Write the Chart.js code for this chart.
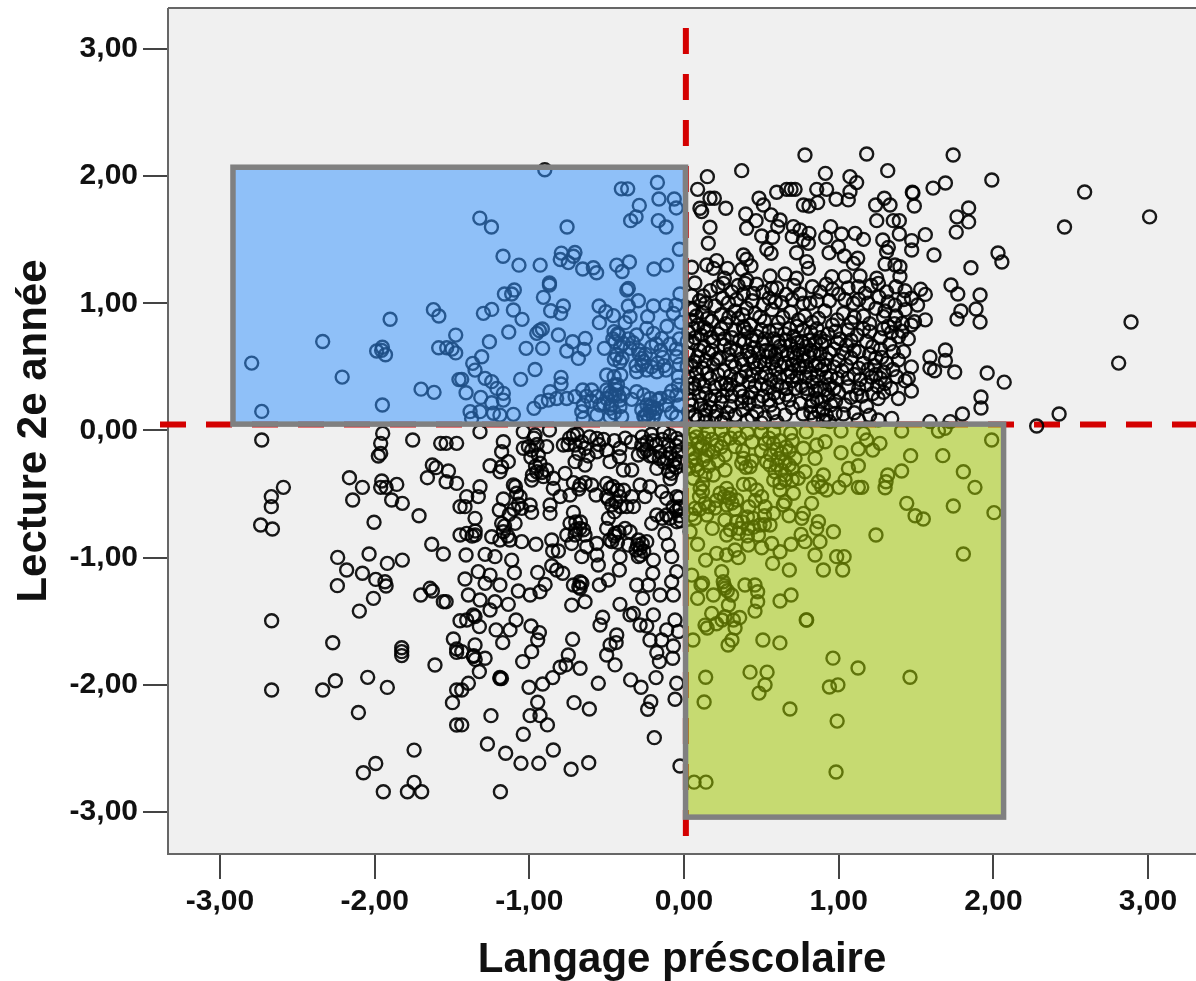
<!DOCTYPE html>
<html><head><meta charset="utf-8">
<style>html,body{margin:0;padding:0;background:#fff}canvas{display:block}</style>
<script src="https://cdn.jsdelivr.net/npm/chart.js@4"></script>
</head><body><canvas id="c" width="1196" height="981"></canvas>
<script>
const tickValues=[-3,-2,-1,0,1,2,3];
const xTitle="Langage préscolaire";
const yTitle="Lecture 2e année";
const blueBox={x0:-2.916,x1:0.01,y0:0.05,y1:2.07};
const greenBox={x0:0.01,x1:2.066,y0:-3.04,y1:0.05};
const redV=0.012, redH=0.047;

const upperLeft=[[-2.795,.53],[-2.73,.15],[-2.336,.70],[-2.21,.42],[-1.90,.875],[-1.95,.20],[-1.987,.625],[-1.95,.655],[-1.955,.63],[-1.93,.595],[-1.70,.325],[-1.616,.30],[-1.62,.95],[-1.585,.90],[-1.476,.75],[-1.586,.65],[-1.534,.65],[-1.50,.64],[-1.476,.61],[-1.455,.40],
[-.90,2.05],[-.172,1.95],[-.405,1.90],[-.364,1.90],[-.162,1.82],[-.063,1.82],[-.05,1.75],[-.289,1.77],[-.31,1.68],[-.345,1.65],[-.166,1.65],[-.116,1.60],[-1.32,1.67],[-1.245,1.60],[-.756,1.60],[-.03,1.425],[-1.17,1.37],[-1.067,1.30],[-.93,1.30],[-.793,1.395],[-.705,1.40],[-.80,1.345],[-.715,1.37],[-.748,1.32],[-.655,1.27],[-.586,1.28],[-.565,1.24],[-.435,1.30],[-.353,1.325],[-.40,1.25],[-.194,1.27],[-.112,1.30],[-.87,1.16],
[-.87,1.144],[-1.097,1.105],[-1.161,1.073],[-1.114,1.073],[-.909,1.047],[-1.243,.952],[-1.297,.921],[-1.103,.947],[-1.047,.874],[-.862,.942],[-.78,.979],[-.797,.921],[-.549,.979],[-.506,.934],[-.457,.903],[-.547,.848],[-.36,1.117],[-.37,1.104],[-.36,.979],[-.295,1.02],[-.198,.979],[-.116,.986],[-.069,.921],[-.052,.986],[-.026,1.073],[-.349,.895],[-.235,.895],[-.381,.848],[-1.133,.774],[-1.258,.698],[-.916,.798],[-.935,.785],[-.952,.764],[-.812,.751],[-.72,.698],[-.638,.724],[-1.021,.646],[-.914,.646],[-.758,.625],[-.646,.638],[-.683,.567],[-.515,.646],[-.452,.777],[-.424,.751],[-.446,.698],[-.392,.685],[-.306,.751],[-.241,.803],[-.198,.764],[-.144,.724],[-.209,.659],[-.295,.633],[-.349,.646],[-.435,.593],[-.414,.541],[-.273,.567],[-.138,.575],[-.047,.58],[-.306,.462],[-.241,.475],[-.176,.462],[-.116,.475],[-.036,.423],[-.273,.515],[-1.308,.58],[-1.366,.528],[-1.351,.475],[-.963,.48],[-1.056,.402],[-.795,.418],[-.795,.365],[-.50,.436],[-.452,.423],[-.409,.436],[-1.437,.402],[-1.286,.41],[-1.243,.384],[-1.409,.297],[-1.21,.331],[-1.168,.292],[-1.168,.239],[-1.314,.26],[-1.243,.218],[-1.383,.148],[-1.319,.148],[-1.232,.135],[-1.103,.127],[-1.19,.121],[-1.373,.095],[-.97,.174],[-.924,.226],[-.866,.305],[-.877,.239],[-.823,.252],[-.758,.252],[-.704,.266],[-.655,.318],[-.597,.318],[-.564,.266],[-.50,.318],[-.446,.357],[-.392,.292],[-.446,.279],[-.50,.252],[-.306,.305],[-.338,.245],[-.22,.252],[-.22,.187],[-.273,.161],[-.176,.174],[-.155,.252],[-.101,.266],[-.047,.279],[-.036,.357],[-.651,.20],[-.661,.148],[-.543,.20],[-.564,.121],[-.478,.174],[-.414,.187],[-.403,.108],[-.651,.095],[-.252,.108],[-.198,.108],[-.047,.108],[-.478,.108],[-.435,.318],[-.467,.279],[-.414,.239],[-.22,.15],[-.24,.13],[-.2,.18]];

const upperLeftDense=[[-.43,.76],[-.46,.72],[-.41,.66],[-.4,.57],[-.45,.56],[-.29,.6],[-.26,.54],[-.25,.6],[-.31,.51],[-.21,.5],[-.17,.53],[-.13,.51],[-.48,.3],[-.43,.36],[-.47,.2],[-.42,.27],[-.45,.14],[-.52,.21],[-.6,.23],[-.63,.27],[-.24,.2],[-.19,.14],[-.26,.11],[-.23,.09],[-.17,.24],[-.26,.28],[-.08,.31],[-.12,.2],[-.08,.14],[-.03,.2],[-.03,.72],[-.05,.64],[-.09,.68],[-.03,.52],[-.36,.72],[-.33,.69],[-.18,.68],[-.15,.63],[-.11,.82],[-.02,.85]];

const upperRight=[[.782,2.166],[1.181,2.174],[.373,2.043],[1.317,2.043],[.914,2.022],[.151,1.996],[.088,1.896],[1.073,1.996],[1.116,1.949],[.599,1.873],[.664,1.896],[.692,1.896],[.718,1.896],[.858,1.896],[.922,1.896],[.983,1.818],[1.073,1.878],[1.062,1.813],[.864,1.792],[.772,1.773],[.808,1.765],[1.476,1.873],[1.489,1.765],[1.295,1.826],[1.332,1.773],[1.239,1.773],[1.246,1.65],[1.353,1.65],[1.392,1.65],[1.392,1.545],[.485,1.826],[.513,1.773],[.168,1.826],[.196,1.826],[.27,1.747],[.103,1.747],[.114,1.721],[.399,1.702],[.466,1.65],[.405,1.59],[.563,1.695],[.621,1.655],[.606,1.603],[.168,1.598],[.157,1.472],[.502,1.529],[.573,1.519],[.535,1.425],[.563,1.393],[.707,1.603],[.75,1.577],[.70,1.524],[.808,1.55],[.804,1.472],[.772,1.498],[.728,1.398],[.948,1.603],[.916,1.519],[1.019,1.545],[1.106,1.55],[1.16,1.503],[.938,1.398],[.998,1.445],[1.037,1.372],[1.123,1.354],[1.095,1.314],[.793,1.328],[.804,1.275],[1.285,1.498],[1.321,1.44],[1.31,1.406],[1.30,1.309],[1.396,1.288],[1.364,1.301],[1.472,1.493],[1.472,1.419],[.05,1.283],[.147,1.301],[.211,1.336],[.19,1.275],[.282,1.275],[.384,1.38],[.405,1.346],[.433,1.294],[.373,1.267],[.405,1.183],[.261,1.197],[.556,1.215],[.653,1.231],[.728,1.197],[.955,1.21],[1.041,1.21],[1.138,1.215],[1.246,1.197],[1.396,1.21],
[1.74,2.166],[1.69,1.946],[1.61,1.906],[1.48,1.867],[1.99,1.97],[2.59,1.875],[2.46,1.60],[3.01,1.68],[1.84,1.75],[1.765,1.68],[1.84,1.64],[1.76,1.56],[1.56,1.54],[2.03,1.396],[2.055,1.325],[1.855,1.28],[1.616,1.38],[1.726,1.144],[1.77,1.073],[1.914,1.065],[1.888,.955],[1.79,.94],[1.765,.877],[1.914,.853],[2.89,.853],[2.81,.53],[1.96,.452],[2.07,.38],[1.75,.46],[1.92,.263],[1.92,.177],[1.80,.13],[2.425,.13],[2.28,.035],[1.59,.07],[1.72,.07],[1.51,.987],[1.56,1.07],[1.53,1.11],[1.43,.95],[1.56,.87],[1.47,.83],[1.69,.633],[1.59,.578],[1.69,.55],[1.59,.49],[1.47,.5],[1.43,.39],[1.47,.31],[1.62,.47],
[.255,1.157],[.394,1.157],[.567,1.117],[.75,1.073],[.879,1.09],[1.0,1.073],[1.127,1.13],[1.257,1.157],[1.429,1.099],[.384,1.073],[.449,1.078],[.125,1.057],[1.19,1.0],[1.095,1.0],[1.364,.986],[.632,1.005],[.513,.99],[.287,1.005],[.2,.979],[.405,.96],[.815,1.0],[1.2,.777],[1.412,.842],[1.49,.855],[1.29,.895],[1.386,.737],[.384,.816],[1.278,.575],[1.353,.62],[1.386,.554],[1.375,.423],[1.45,.41],[1.256,.252],[1.386,.252],[1.041,.2],[1.116,.279],[1.063,.344],[.977,.134],[.75,.213],[.632,.344],[.136,.121],[.373,.226],[.47,.148],[.653,.121],[1.343,.095],[1.256,.082],[1.127,.082],
[.05,.96],[.12,.93],[.24,.91],[.33,.94],[.46,.92],[.57,.95],[.69,.93],[.78,.9],[.91,.94],[1.03,.92],[1.16,.9],[1.24,.96],
[.04,.87],[.09,.83],[.18,.86],[.27,.84],[.35,.88],[.43,.83],[.52,.86],[.61,.85],[.73,.82],[.83,.85],[.96,.83],[1.08,.85],[1.2,.84],[1.32,.82],
[.03,.77],[.11,.75],[.15,.79],[.22,.76],[.31,.73],[.41,.77],[.47,.74],[.55,.78],[.58,.72],[.65,.76],[.71,.74],[.76,.7],[.82,.77],[.88,.73],[.93,.76],[1.01,.72],[1.12,.75],[1.27,.73],[1.34,.77],
[.06,.69],[.13,.66],[.19,.7],[.26,.67],[.34,.63],[.39,.69],[.45,.65],[.51,.68],[.56,.62],[.62,.66],[.67,.6],[.69,.67],[.74,.63],[.79,.66],[.84,.61],[.89,.68],[.97,.64],[1.05,.67],[1.13,.62],[1.22,.66],
[.03,.6],[.09,.58],[.16,.61],[.23,.57],[.29,.6],[.37,.56],[.43,.58],[.49,.54],[.54,.58],[.6,.55],[.65,.53],[.72,.57],[.77,.55],[.81,.58],[.87,.53],[.92,.56],[1.0,.55],[1.08,.57],[1.16,.53],
[.05,.51],[.12,.49],[.19,.52],[.26,.47],[.33,.5],[.4,.46],[.47,.49],[.53,.45],[.59,.48],[.69,.46],[.75,.49],[.82,.45],[.89,.48],[.95,.43],[1.02,.47],[1.1,.44],[1.19,.48],[1.27,.41],
[.03,.42],[.1,.39],[.17,.41],[.24,.37],[.42,.38],[.5,.36],[.56,.4],[.7,.39],[.76,.35],[.83,.38],[.88,.33],[.94,.36],[1.0,.3],[1.18,.36],[1.3,.37],
[.07,.33],[.14,.29],[.2,.27],[.28,.32],[.44,.3],[.51,.27],[.58,.29],[.8,.29],[.86,.25],[.93,.28],[.98,.23],
[.04,.24],[.11,.2],[.17,.18],[.24,.22],[.3,.19],[.42,.21],[.56,.2],[.68,.24],[.82,.19],[.9,.17],
[.03,.15],[.09,.09],[.2,.11],[.26,.09],[.33,.12],[.41,.08],[.52,.1],[.6,.07],[.84,.1],[.94,.07]];

const upperRightDense=[[.08,.9],[.15,.88],[.29,.89],[.38,.91],[.49,.89],[.64,.89],[.74,.87],[.87,.88],[.99,.87],[1.1,.89],[.06,.8],[.13,.81],[.24,.8],[.33,.79],[.39,.8],[.5,.79],[.6,.79],[.68,.8],[.77,.79],[.86,.8],[.98,.78],[1.06,.79],[1.16,.8],[.07,.73],[.17,.73],[.26,.72],[.36,.71],[.44,.71],[.52,.72],[.61,.7],[.66,.71],[.73,.69],[.81,.71],[.85,.69],[.91,.7],[.99,.69],[1.08,.71],[1.18,.7],[.1,.63],[.18,.63],[.3,.65],[.41,.62],[.48,.61],[.53,.63],[.59,.6],[.63,.62],[.71,.61],[.77,.6],[.82,.63],[.88,.6],[.94,.61],[1.03,.61],[1.1,.63],[1.2,.6],[.07,.54],[.14,.55],[.21,.56],[.31,.54],[.38,.52],[.45,.54],[.52,.52],[.57,.53],[.63,.5],[.7,.52],[.74,.51],[.79,.5],[.85,.51],[.91,.51],[.97,.5],[1.05,.51],[1.13,.49],[1.23,.51],[.08,.45],[.15,.45],[.22,.44],[.3,.43],[.37,.42],[.44,.43],[.5,.42],[.62,.42],[.67,.43],[.73,.42],[.79,.42],[.86,.43],[.92,.42],[.99,.41],[1.06,.41],[1.14,.4],[1.24,.44],[.06,.37],[.13,.35],[.2,.34],[.27,.37],[.46,.35],[.54,.34],[.72,.33],[.79,.33],[.85,.31],[.91,.32],[.97,.33],[1.13,.33],[.1,.27],[.17,.24],[.25,.27],[.31,.27],[.42,.26],[.48,.23],[.55,.24],[.83,.23],[.89,.23],[.95,.2],[.05,.2],[.14,.16],[.21,.15],[.28,.14],[.38,.16],[.44,.11],[.58,.14],[.87,.15],[.92,.12],[.82,.14],[.14,.07],[.24,.07],[.07,.12],[.5,.06],[.9,.08],
[.07,1.16],[.17,1.1],[.22,1.13],[.31,1.09],[.35,1.14],[.47,1.15],[.51,1.09],[.6,1.12],[.66,1.07],[.71,1.14],[.83,1.13],[.92,1.15],[.96,1.11],[1.06,1.12],[1.17,1.08],[1.21,1.14],[1.31,1.09],[1.37,1.13],[1.47,1.04],[.05,1.06],[.1,1.02],[.25,1.04],[.34,1.03],[.44,1.02],[.55,1.04],[.59,1.01],[.7,1.03],[.77,1.0],[.86,1.02],[.94,1.02],[1.04,1.03],[1.13,1.03],[1.26,1.05],[1.32,1.01],[1.42,1.03],[1.3,.94],[1.37,.9],[1.41,.78],[1.29,.8],[1.36,.84],[1.45,.72],[1.33,.68],[1.27,.64],[1.42,.62],[1.24,.57],[1.31,.53],[1.29,.46],[1.35,.48],[1.21,.42],[1.25,.35],[1.34,.33],[1.15,.27],[1.22,.29],[1.29,.3],[1.08,.26],[1.18,.19],[1.1,.14],[1.03,.13],[1.2,.12],[.35,.4],[.3,.36],[.36,.31],[.38,.27],[.6,.36],[.66,.33],[.61,.26],[.66,.28],[.7,.18],[.77,.13],[.06,.95],[.14,1.0],[.02,.7],[.02,.5],[.02,.33]];

const lowerLeft=[[-2.73,-.075],[-1.948,-.023],[-1.961,-.101],[-1.961,-.18],[-1.976,-.201],[-1.754,-.075],[-1.573,-.101],[-1.538,-.101],[-1.47,-.101],[-1.627,-.271],[-1.603,-.292],[-1.523,-.319],[-1.659,-.371],[-1.538,-.403],[-1.47,-.416],[-2.163,-.371],[-2.079,-.447],[-2.142,-.547],[-2.59,-.447],[-2.668,-.52],[-2.668,-.599],[-2.737,-.743],[-2.661,-.775],[-1.954,-.397],[-1.961,-.447],[-1.926,-.447],[-1.857,-.424],[-1.89,-.547],[-1.821,-.573],[-1.713,-.67],[-2.004,-.722],[-1.631,-.895],[-1.556,-.971],[-1.448,-.822],[-1.448,-.599],[-2.239,-.998],[-2.036,-.971],[-2.181,-1.097],[-2.079,-1.123],[-1.918,-1.045],[-1.821,-1.019],[-1.993,-1.171],[-1.933,-1.189],[-1.926,-1.223],[-2.241,-1.22],[-2.008,-1.32],[-2.099,-1.42],[-1.702,-1.294],[-1.642,-1.241],[-1.627,-1.262],[-1.556,-1.346],[-1.538,-1.346],[-2.666,-1.496],[-1.448,-1.496],[-2.271,-1.669],[-1.491,-1.64],[-1.47,-1.718],[-1.47,-1.745],[-1.825,-1.708],[-1.825,-1.739],[-1.825,-1.77],[-1.61,-1.844],[-2.666,-2.041],[-2.336,-2.041],[-2.254,-1.968],[-2.045,-1.941],[-1.918,-2.02],[-2.105,-2.217],[-1.47,-2.041],[-1.497,-2.14],[-1.47,-2.316],[-1.745,-2.513],[-1.993,-2.618],[-2.073,-2.691],[-1.745,-2.767],[-1.944,-2.84],[-1.788,-2.84],[-1.696,-2.84],
[-1.319,-.01],[-1.168,-.088],[-1.179,-.167],[-1.136,-.245],[-1.254,-.277],[-1.179,-.285],[-1.19,-.324],[-1.039,-.14],[-.888,-.127],[-.87,.004],[-1.039,-.01],[-.963,-.036],[-.985,-.154],[-1.006,-.127],[-.942,-.193],[-.931,-.258],[-.952,-.324],[-.985,-.39],[-.909,-.363],[-.888,-.311],[-.845,-.376],[-.845,-.455],[-.769,-.337],[-.715,-.036],[-.78,-.114],[-.704,-.114],[-.64,-.14],[-.704,-.245],[-.64,-.272],[-.564,-.062],[-.564,-.167],[-.50,-.154],[-.414,-.14],[-.418,-.206],[-.478,-.245],[-.392,-.311],[-.338,-.311],[-.273,-.114],[-.295,-.193],[-.241,-.154],[-.176,-.298],[-.133,-.01],[-.155,-.167],[-.101,-.114],[-.047,-.062],[-.112,-.219],[-.069,-.272],[-.08,-.337],[-.036,-.167],[-.18,-.11],[-.2,-.2],
[-.672,-.429],[-.715,-.41],[-.597,-.429],[-.569,-.507],[-.737,-.507],[-.801,-.52],[-.866,-.586],[-.866,-.652],[-.995,-.586],[-.985,-.644],[-1.049,-.612],[-1.103,-.429],[-1.082,-.494],[-1.168,-.539],[-1.194,-.625],[-1.092,-.73],[-1.179,-.73],[-1.168,-.796],[-1.319,-.442],[-1.33,-.52],[-1.405,-.52],[-1.416,-.599],[-1.351,-.691],[-1.405,-.809],[-1.351,-.822],[-1.243,-.835],[-1.19,-.861],[-1.125,-.861],[-1.049,-.874],[-.957,-.895],[-.855,-.861],[-.849,-.948],[-.812,-.948],[-.758,-.822],[-.726,-.888],[-.715,-.644],[-.737,-.73],[-.672,-.77],[-.704,-.822],[-.64,-.822],[-.564,-.888],[-.629,-.914],[-.661,-.992],[-.564,-.979],[-.554,-1.058],[-.414,-.992],[-.418,-1.097],
[-.50,-.416],[-.478,-.455],[-.414,-.52],[-.50,-.52],[-.467,-.586],[-.338,-.52],[-.37,-.599],[-.327,-.599],[-.284,-.429],[-.22,-.442],[-.252,-.52],[-.144,-.481],[-.112,-.534],[-.047,-.52],[-.026,-.612],[-.176,-.665],[-.112,-.665],[-.209,-.73],[-.123,-.809],[-.047,-.717],[-.03,-.67],[-.489,-.691],[-.50,-.77],[-.446,-.809],[-.381,-.77],[-.349,-.796],[-.467,-.874],[-.36,-.901],[-.295,-.861],[-.241,-.874],[-.284,-.927],[-.295,-.992],[-.101,-.901],[-.08,-.992],[-.198,-1.019],[-.202,-1.123],[-.047,-1.11],[-.08,-1.189],[-.069,-1.294],[-.306,-1.215],[-.23,-1.215],[-.155,-1.294],[-.267,-1.32],
[-1.409,-.979],[-1.286,-.974],[-1.222,-.992],[-1.114,-1.019],[-1.097,-1.118],[-1.33,-1.11],[-1.254,-1.137],[-1.416,-1.168],[-1.286,-1.202],[-1.19,-1.215],[-1.394,-1.294],[-1.319,-1.333],[-1.222,-1.346],[-1.136,-1.367],[-1.071,-1.262],[-.995,-1.294],[-.931,-1.268],[-.898,-1.21],[-.946,-1.116],[-.855,-1.063],[-.823,-1.097],[-.784,-1.123],[-.715,-1.215],[-.672,-1.189],[-.672,-1.241],[-.547,-1.215],[-.489,-1.176],[-.726,-1.373],[-.64,-1.346],[-.414,-1.367],[-.327,-1.438],[-1.254,-1.412],[-1.362,-1.451],
[-1.405,-1.49],[-1.351,-1.463],[-1.323,-1.542],[-1.215,-1.568],[-1.125,-1.568],[-1.086,-1.49],[-1.172,-1.668],[-.989,-1.537],[-.935,-1.589],[-.946,-1.647],[-.985,-1.739],[-1.043,-1.817],[-1.351,-1.686],[-1.362,-1.778],[-1.286,-1.791],[-1.323,-1.896],[-1.19,-1.941],[-1.18,-1.95],[-1.394,-1.988],[-1.437,-1.739],[-.72,-1.642],[-.748,-1.765],[-.763,-1.843],[-.801,-1.862],[-.849,-1.943],[-.914,-1.993],[-1.002,-2.019],[-.672,-1.87],[-.554,-1.988],[-.946,-2.137],[-.995,-2.242],[-.931,-2.242],[-.883,-2.315],[-.711,-2.14],[-.612,-2.19],[-1.248,-2.242],[-1.039,-2.389],[-1.271,-2.465],[-1.153,-2.538],[-1.054,-2.617],[-.939,-2.617],[-.845,-2.512],[-.73,-2.664],[-.616,-2.612],[-1.187,-2.84],[-1.437,-2.315],[-1.437,-2.04],
[-.526,-1.469],[-.543,-1.529],[-.435,-1.608],[-.439,-1.668],[-.478,-1.686],[-.50,-1.765],[-.446,-1.843],[-.349,-1.45],[-.198,-1.45],[-.284,-1.529],[-.241,-1.537],[-.112,-1.568],[-.058,-1.49],[-.036,-1.581],[-.22,-1.647],[-.144,-1.647],[-.069,-1.694],[-.176,-1.746],[-.159,-1.817],[-.073,-1.791],[-.181,-1.943],[-.345,-1.961],[-.278,-2.019],[-.047,-1.988],[-.058,-2.113],[-.215,-2.132],[-.235,-2.192],[-.192,-2.415],[-.026,-2.638]];

const lowerLeftDense=[[-.97,-.06],[-.95,-.11],[-.99,-.21],[-.96,-.28],[-.92,-.33],[-.98,-.35],[-.74,-.06],[-.69,-.03],[-.75,-.11],[-.66,-.09],[-.61,-.05],[-.68,-.18],[-.62,-.2],[-.55,-.11],[-.52,-.07],[-.45,-.08],[-.38,-.06],[-.34,-.09],[-.27,-.05],[-.21,-.03],[-.24,-.09],[-.2,-.08],[-.14,-.07],[-.09,-.04],[-.05,-.12],[-.03,-.09],[-.26,-.17],[-.22,-.2],[-.16,-.22],[-.13,-.25],[-.09,-.18],[-.06,-.23],[-.05,-.29],[-.03,-.25],[-.1,-.32],[-.09,-.38],[-.46,-.44],[-.43,-.47],[-.49,-.54],[-.44,-.56],[-.41,-.6],[-.45,-.64],[-.39,-.47],[-.68,-.46],[-.64,-.41],[-.7,-.72],[-.67,-.72],[-.65,-.78],[-.7,-.78],[-.3,-.9],[-.27,-.89],[-.31,-.94],[-.26,-.95],[-.28,-.98],[-.45,-.83],[-.43,-.88],[-.42,-.8],[-.48,-.86],[-.03,-.53],[-.03,-.6],[-.05,-.63],[-.02,-.71],[-.07,-.6],[-.14,-.69],[-.09,-.69],[-1.1,-.62],[-1.07,-.58],[-1.13,-.66],[-1.14,-.83],[-1.16,-.75],[-1.35,-.79],[-1.37,-.83],[-1.06,-.52],[-1.09,-.44],[-.66,-1.2],[-.68,-1.23],[-1.36,-1.77],[-1.35,-1.8],[-1.19,-1.95]];

const lowerRight=[[1.015,-.004],[1.407,-.004],[1.645,-.004],[1.688,.017],[1.989,-.075],[1.16,-.023],[1.181,-.075],[1.267,-.101],[1.22,-.154],[1.127,-.146],[1.015,-.175],[1.465,-.198],[1.673,-.198],[1.127,-.277],[1.063,-.298],[1.407,-.319],[1.806,-.324],[1.317,-.35],[1.306,-.403],[1.30,-.45],[1.881,-.447],[1.127,-.447],[1.149,-.447],[1.041,-.39],[1.002,-.447],[.922,-.468],[.901,-.35],[.869,-.403],[.89,-.442],[.836,-.447],[1.44,-.573],[1.741,-.594],[2.004,-.646],[1.494,-.67],[1.547,-.696],[1.241,-.822],[1.806,-.971],[.966,-.796],[.825,-.573],[.869,-.717],[.858,-.77],[.757,-.817],[.782,-.874],[.879,-.874],[.847,-.979],[.901,-1.097],[.987,-.992],[1.035,-.992],[1.026,-1.097],[.692,-.895],[.681,-1.097],[.573,-1.045],[.621,-.953],[.502,-.922],[.351,-1.0],[.14,-1.019],[.088,-.895],[.183,-.77],[.276,-.822],[.416,-.901],[.211,-.966],[.276,-.979],[.33,-.94],[.05,-1.137],[.11,-1.215],[.19,-1.294],[.088,-1.32],[.244,-1.11],[.254,-1.189],[.265,-1.241],[.308,-1.294],[.287,-1.372],[.394,-1.215],[.459,-1.215],[.476,-1.268],[.476,-1.346],[.459,-1.42],[.621,-1.341],[.692,-1.294],[.793,-1.49],[.179,-1.438],[.265,-1.464],[.319,-1.49],[.136,-1.53],
[.071,-.01],[.157,-.01],[.24,.0],[.33,-.01],[.41,-.02],[.5,-.01],[.58,-.01],[.69,-.02],[.79,-.01],[.104,-.14],[.157,-.154],[.071,-.219],[.125,-.232],[.211,-.114],[.265,-.193],[.33,-.127],[.384,-.219],[.427,-.285],[.373,-.258],[.524,-.101],[.578,-.101],[.534,-.245],[.61,-.219],[.653,-.245],[.718,-.219],[.772,-.14],[.858,-.114],[.912,-.088],[.847,-.219],[.782,-.324],[.739,-.376],[.653,-.35],[.588,-.324],[.653,-.39],[.556,-.272],[.136,-.35],[.19,-.35],[.265,-.311],[.06,-.376],[.104,-.455],[.276,-.455],[.233,-.494],[.384,-.424],[.427,-.424],[.47,-.468],[.502,-.52],[.524,-.599],[.578,-.652],[.621,-.468],[.707,-.494],[.653,-.56],[.642,-.586],[.679,-.67],[.772,-.652],[.761,-.691],[.34,-.547],[.276,-.586],[.136,-.573],[.071,-.612],[.147,-.665],[.071,-.691],[.265,-.704],[.34,-.717],[.448,-.691],[.491,-.743],[.556,-.743],[.416,-.77],[.351,-.809],[.481,-.822],[.567,-.888],[.039,-.796],
[.05,-.07],[.09,-.1],[.13,-.06],[.19,-.17],[.03,-.15],[.08,-.27],[.16,-.28],[.22,-.24],[.3,-.06],[.44,-.09],[.62,-.08],[.66,-.13],[.7,-.08],[.56,-.19],[.6,-.27],[.7,-.3],[.5,-.16],[.12,-.42],[.3,-.5],[.26,-.52],[.33,-.62],[.2,-.61],[.1,-.52],[.42,-.6],[.46,-.55],[.52,-.67],
[.15,-1.553],[.246,-1.49],[.31,-1.647],[.33,-1.553],[.285,-1.687],[.21,-1.52],[.36,-1.47],[.51,-1.647],[.62,-1.67],[.79,-1.49],[.14,-1.94],[.13,-2.135],[.427,-1.9],[.537,-1.9],[.524,-2.0],[.485,-2.065],[.685,-2.19],[.963,-1.79],[1.125,-1.868],[.995,-2.0],[.94,-2.017],[1.461,-1.94],[.99,-2.285],[.983,-2.685],[.065,-2.765],[.142,-2.765],[.058,-1.647]];

const lowerRightDense=[[.08,-.05],[.12,-.12],[.06,-.18],[.14,-.2],[.09,-.31],[.03,-.3],[.05,-.24],[.18,-.07],[.26,-.07],[.24,-.13],[.36,-.06],[.38,-.16],[.4,-.29],[.44,-.24],[.55,-.06],[.6,-.15],[.63,-.18],[.68,-.16],[.68,-.27],[.63,-.31],[.58,-.39],[.7,-.39],[.62,-.41],[.12,-.48],[.21,-.55],[.29,-.53],[.31,-.57],[.16,-.6],[.1,-.62],[.05,-.66],[.41,-.68],[.38,-.72],[.45,-.76],[.36,-.77],[.3,-.78],[.41,-.83],[.52,-.74],[.12,-1.2],[.26,-1.22],[.28,-1.26]];

const allPoints=[upperLeft,upperLeftDense,upperRight,upperRightDense,lowerLeft,lowerLeftDense,lowerRight,lowerRightDense];

const deco={id:'deco',
 beforeDatasetsDraw(ch){
  const {ctx,chartArea:a,scales:{x,y}}=ch;
  ctx.save();
  ctx.fillStyle='#f0f0f0';ctx.fillRect(a.left,a.top,a.right-a.left,a.bottom-a.top);
  ctx.strokeStyle='#666';ctx.lineWidth=2;
  ctx.beginPath();ctx.moveTo(a.left,a.top);ctx.lineTo(a.right,a.top);ctx.moveTo(a.left,a.top);ctx.lineTo(a.left,a.bottom);ctx.lineTo(a.right,a.bottom);ctx.stroke();
  ctx.strokeStyle='#d40000';ctx.lineWidth=6;ctx.setLineDash([26,20]);
  ctx.beginPath();ctx.moveTo(x.getPixelForValue(redV),28);ctx.lineTo(x.getPixelForValue(redV),850);ctx.stroke();
  ctx.beginPath();ctx.moveTo(160,y.getPixelForValue(redH));ctx.lineTo(a.right,y.getPixelForValue(redH));ctx.stroke();
  ctx.restore();
 },
 afterDatasetsDraw(ch){
  const {ctx,scales:{x,y}}=ch;
  const box=(b,c)=>{
   const l=x.getPixelForValue(b.x0),r=x.getPixelForValue(b.x1),t=y.getPixelForValue(b.y1),bt=y.getPixelForValue(b.y0);
   ctx.fillStyle=c;ctx.fillRect(l,t,r-l,bt-t);
   ctx.strokeStyle='#808080';ctx.lineWidth=5.5;ctx.strokeRect(l,t,r-l,bt-t);
  };
  ctx.save();
  box(blueBox,'rgba(54,148,255,0.52)');
  box(greenBox,'rgba(160,198,0,0.53)');
  ctx.restore();
 }};

const fontFam='"Liberation Sans",Arial,sans-serif';
const tickFmt=v=>v.toFixed(2).replace('.',',');
const onlyTicks=s=>{s.ticks=tickValues.map(v=>({value:v}));};
new Chart(document.getElementById('c'),{
 type:'scatter',
 data:{datasets:allPoints.map(p=>({data:p.map(([x,y])=>({x,y})),pointStyle:'circle',pointRadius:6.5,pointBorderWidth:2.4,pointBackgroundColor:'rgba(0,0,0,0)',pointBorderColor:'rgba(0,0,0,0.9)',clip:false}))},
 plugins:[deco],
 options:{responsive:false,animation:false,events:[],
  layout:{autoPadding:false,padding:{top:8,right:0,left:0,bottom:0}},
  plugins:{legend:{display:false},tooltip:{enabled:false}},
  scales:{
   x:{type:'linear',min:-3.336,max:3.31,afterBuildTicks:onlyTicks,afterFit:s=>{s.height=127;s.paddingLeft=0;s.paddingRight=0;},
    grid:{drawOnChartArea:false,drawTicks:true,tickLength:25,color:'#444',lineWidth:2},border:{display:false},
    ticks:{autoSkip:false,maxRotation:0,padding:5,color:'#111',font:{family:fontFam,size:30,weight:'bold'},callback:tickFmt},
    title:{display:true,text:xTitle,color:'#111',font:{family:fontFam,size:42,weight:'bold',lineHeight:1},padding:{top:0,bottom:0}}},
   y:{type:'linear',min:-3.33,max:3.322,afterBuildTicks:onlyTicks,afterFit:s=>{s.width=168;s.paddingTop=0;s.paddingBottom=0;},
    grid:{drawOnChartArea:false,drawTicks:true,tickLength:25,color:'#444',lineWidth:2},border:{display:false},
    ticks:{autoSkip:false,padding:5,color:'#111',font:{family:fontFam,size:30,weight:'bold'},callback:tickFmt},
    title:{display:true,text:yTitle,color:'#111',font:{family:fontFam,size:42,weight:'bold',lineHeight:1},padding:{top:13,bottom:0}}}
  }}
});
</script></body></html>
